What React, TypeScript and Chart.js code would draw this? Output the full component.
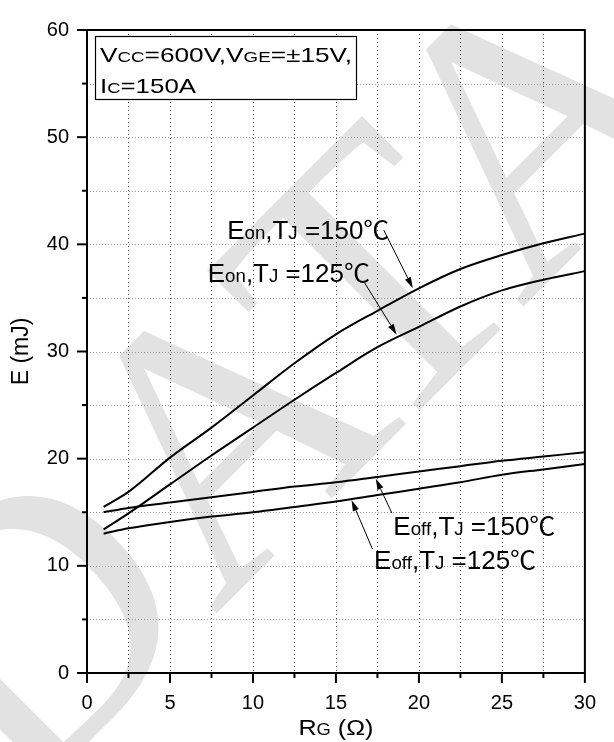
import React, { useEffect, useRef } from 'react';
import { Chart, registerables } from 'chart.js';

Chart.register(...registerables);

// ---- data ----
const rgValues = [1, 2.5, 5, 7.5, 10, 12.5, 15, 17.5, 20, 22.5, 25, 27.5, 30];
const eon150 = [15.5, 16.9, 20.1, 22.9, 25.9, 28.9, 31.6, 33.8, 35.9, 37.7, 39.0, 40.1, 41.0];
const eon125 = [13.4, 14.9, 17.6, 20.3, 22.9, 25.5, 28.0, 30.4, 32.3, 34.2, 35.7, 36.7, 37.5];
const eoff150 = [15.0, 15.4, 15.9, 16.4, 16.9, 17.4, 17.8, 18.3, 18.8, 19.3, 19.8, 20.2, 20.6];
const eoff125 = [13.0, 13.5, 14.1, 14.6, 15.0, 15.5, 16.0, 16.6, 17.2, 17.8, 18.5, 19.0, 19.5];

const xMin = 0, xMax = 30, xStep = 5, xMinor = 2.5;
const yMin = 0, yMax = 60, yStep = 10, yMinor = 5;

const yTitle = 'E (mJ)';
const watermarkText = 'DATA';

type Run = [string, number];

const BIG_A = 25, SMALL_A = 18;
const labelEon150: Run[] = [['E', BIG_A], ['on', SMALL_A], [',T', BIG_A], ['J', SMALL_A], [' =150\u2103', BIG_A]];
const labelEon125: Run[] = [['E', BIG_A], ['on', SMALL_A], [',T', BIG_A], ['J', SMALL_A], [' =125\u2103', BIG_A]];
const labelEoff150: Run[] = [['E', BIG_A], ['off', SMALL_A], [',T', BIG_A], ['J', SMALL_A], [' =150\u2103', BIG_A]];
const labelEoff125: Run[] = [['E', BIG_A], ['off', SMALL_A], [',T', BIG_A], ['J', SMALL_A], [' =125\u2103', BIG_A]];

const legendLine1: Run[] = [['V', 21], ['CC', 15], ['=600V,V', 21], ['GE', 15], ['=\u00b115V,', 21]];
const legendLine2: Run[] = [['I', 21], ['C', 15], ['=150A', 21]];
const xTitleRuns: Run[] = [['R', 22], ['G', 16], [' (\u03a9)', 22]];

// annotation layout (in data coordinates)
const annotations = [
  { runs: labelEon150, at: [8.45, 40.5], from: [17.88, 41.33], to: [19.63, 35.92] },
  { runs: labelEon125, at: [7.28, 36.45], from: [16.71, 36.45], to: [18.66, 31.57] },
  { runs: labelEoff150, at: [18.46, 12.88], from: [18.37, 14.93], to: [17.4, 18.13] },
  { runs: labelEoff125, at: [17.3, 9.68], from: [17.2, 11.57], to: [15.94, 16.14] },
];

const FONT = "'Liberation Sans', Arial, 'Noto Sans CJK SC', sans-serif";

function runsWidth(ctx: CanvasRenderingContext2D, runs: Run[]) {
  let w = 0;
  for (const [t, s] of runs) {
    ctx.font = `${s}px ${FONT}`;
    w += ctx.measureText(t).width;
  }
  return w;
}

function drawRuns(ctx: CanvasRenderingContext2D, runs: Run[], x: number, y: number, target?: number, align: 'left' | 'center' = 'left') {
  ctx.save();
  const w = runsWidth(ctx, runs);
  const sx = target ? target / w : 1;
  const start = align === 'center' ? x - (w * sx) / 2 : x;
  ctx.translate(start, y);
  ctx.scale(sx, 1);
  ctx.fillStyle = '#000';
  ctx.textBaseline = 'alphabetic';
  ctx.textAlign = 'left';
  let cx = 0;
  for (const [t, s] of runs) {
    ctx.font = `${s}px ${FONT}`;
    ctx.fillText(t, cx, 0);
    cx += ctx.measureText(t).width;
  }
  ctx.restore();
}

function arrow(ctx: CanvasRenderingContext2D, x1: number, y1: number, x2: number, y2: number) {
  const ang = Math.atan2(y2 - y1, x2 - x1);
  const len = 11, half = 3.2;
  const bx = x2 - Math.cos(ang) * len, by = y2 - Math.sin(ang) * len;
  ctx.save();
  ctx.strokeStyle = '#000';
  ctx.fillStyle = '#000';
  ctx.lineWidth = 1;
  ctx.beginPath();
  ctx.moveTo(x1, y1);
  ctx.lineTo(bx, by);
  ctx.stroke();
  ctx.beginPath();
  ctx.moveTo(x2, y2);
  ctx.lineTo(bx + Math.sin(ang) * half, by - Math.cos(ang) * half);
  ctx.lineTo(bx - Math.sin(ang) * half, by + Math.cos(ang) * half);
  ctx.closePath();
  ctx.fill();
  ctx.restore();
}

const framePlugin = {
  id: 'frame',
  beforeDraw(chart: any) {
    const { ctx } = chart;
    ctx.save();
    ctx.fillStyle = '#fff';
    ctx.fillRect(0, 0, chart.width, chart.height);
    ctx.fillStyle = '#e2e2e2';
    ctx.font = "380px 'Liberation Serif', serif";
    ctx.translate(20, 810);
    ctx.rotate(-Math.PI / 4);
    ctx.fillText(watermarkText, 0, 0);
    ctx.restore();
  },
  beforeDatasetsDraw(chart: any) {
    const { ctx, chartArea: { left, right, top, bottom }, scales: { x, y } } = chart;
    ctx.save();
    ctx.lineWidth = 1;
    ctx.setLineDash([1, 3]);
    ctx.strokeStyle = '#444';
    for (let v = xMin + xMinor; v < xMax - 1e-6; v += xMinor) {
      const px = Math.round(x.getPixelForValue(v)) + 0.5;
      ctx.beginPath();
      ctx.moveTo(px, top);
      ctx.lineTo(px, bottom);
      ctx.stroke();
    }
    ctx.setLineDash([1, 2]);
    ctx.strokeStyle = '#999';
    for (let v = yMin + yMinor; v < yMax - 1e-6; v += yMinor) {
      const py = Math.round(y.getPixelForValue(v)) + 0.5;
      ctx.beginPath();
      ctx.moveTo(left, py);
      ctx.lineTo(right, py);
      ctx.stroke();
    }
    ctx.restore();
  },
  afterDatasetsDraw(chart: any) {
    const { ctx, chartArea: { left, right, top, bottom }, scales: { x, y } } = chart;
    ctx.save();
    // legend box
    const bl = left + 8, bt = top + 6, bw = 261, bh = 63;
    ctx.fillStyle = '#fff';
    ctx.fillRect(bl, bt, bw, bh);
    ctx.strokeStyle = '#000';
    ctx.lineWidth = 1.2;
    ctx.strokeRect(bl + 0.5, bt + 0.5, bw, bh);
    drawRuns(ctx, legendLine1, bl + 5, bt + 25.5, 252);
    drawRuns(ctx, legendLine2, bl + 5, bt + 56.5, 96);

    // annotations
    for (const a of annotations) {
      drawRuns(ctx, a.runs, x.getPixelForValue(a.at[0]), y.getPixelForValue(a.at[1]), 162);
      arrow(ctx, x.getPixelForValue(a.from[0]), y.getPixelForValue(a.from[1]), x.getPixelForValue(a.to[0]), y.getPixelForValue(a.to[1]));
    }

    // frame
    ctx.strokeStyle = '#000';
    ctx.lineWidth = 2;
    ctx.setLineDash([]);
    ctx.beginPath();
    ctx.rect(left, top, right - left, bottom - top);
    ctx.stroke();
    // ticks
    for (let v = xMin; v <= xMax + 1e-6; v += xMinor) {
      const px = x.getPixelForValue(v);
      const major = Math.abs(v / xStep - Math.round(v / xStep)) < 1e-6;
      ctx.beginPath();
      ctx.moveTo(px, bottom);
      ctx.lineTo(px, bottom + (major ? 10 : 5));
      ctx.stroke();
    }
    for (let v = yMin; v <= yMax + 1e-6; v += yMinor) {
      const py = y.getPixelForValue(v);
      const major = Math.abs(v / yStep - Math.round(v / yStep)) < 1e-6;
      ctx.beginPath();
      ctx.moveTo(left, py);
      ctx.lineTo(left - (major ? 10 : 5), py);
      ctx.stroke();
    }
    // x title
    drawRuns(ctx, xTitleRuns, (left + right) / 2, 735, 75, 'center');
    ctx.restore();
  },
};

export default function App() {
  const ref = useRef<HTMLCanvasElement>(null);
  useEffect(() => {
    const canvas = ref.current!;
    const series = [eon150, eon125, eoff150, eoff125];
    const names = ['Eon 150', 'Eon 125', 'Eoff 150', 'Eoff 125'];
    const chart = new Chart(canvas, {
      type: 'line',
      data: {
        datasets: series.map((vals, i) => ({
          label: names[i],
          data: rgValues.map((xv, j) => ({ x: xv, y: vals[j] })),
          borderColor: '#000',
          borderWidth: 2,
          pointRadius: 0,
          fill: false,
          cubicInterpolationMode: 'monotone' as const,
        })),
      },
      options: {
        responsive: false,
        animation: false,
        devicePixelRatio: 1,
        events: [],
        layout: { padding: { top: 18, right: 13, bottom: 0, left: 0 } },
        plugins: { legend: { display: false }, tooltip: { enabled: false } },
        scales: {
          x: {
            type: 'linear',
            min: xMin,
            max: xMax,
            ticks: { stepSize: xStep, color: '#000', font: { size: 20, family: FONT }, padding: 18, maxRotation: 0, autoSkip: false },
            grid: { display: false, drawTicks: false },
            border: { display: false },
            afterFit: (s: any) => { s.height = 69; },
          },
          y: {
            type: 'linear',
            min: yMin,
            max: yMax,
            ticks: { stepSize: yStep, color: '#000', font: { size: 20, family: FONT }, padding: 18 },
            grid: { display: false, drawTicks: false },
            border: { display: false },
            title: { display: true, text: yTitle, color: '#000', font: { size: 23, family: FONT }, padding: { top: 8, bottom: 0 } },
            afterFit: (s: any) => { s.width = 87; },
          },
        },
      },
      plugins: [framePlugin],
    } as any);
    return () => chart.destroy();
  }, []);
  return (
    <div style={{ position: 'fixed', left: 0, top: 0, width: 614, height: 742, background: '#fff' }}>
      <canvas ref={ref} width={614} height={742} style={{ display: 'block', width: 614, height: 742 }} />
    </div>
  );
}
